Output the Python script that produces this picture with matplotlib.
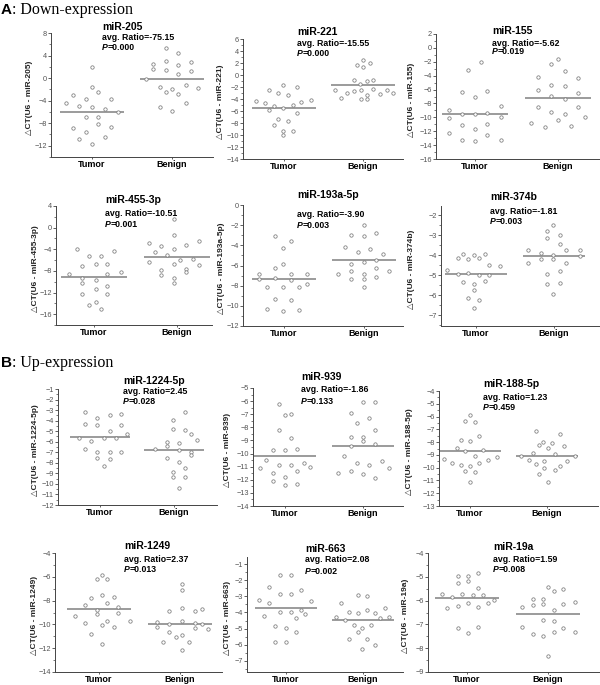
import matplotlib
matplotlib.use('Agg')
import matplotlib.pyplot as plt
import numpy as np
from matplotlib.ticker import MultipleLocator, AutoMinorLocator

# ---------------- data ----------------
groups = ['Tumor', 'Benign']
mirnas = ['miR-205', 'miR-221', 'miR-155', 'miR-455-3p', 'miR-193a-5p', 'miR-374b',
          'miR-1224-5p', 'miR-939', 'miR-188-5p', 'miR-1249', 'miR-663', 'miR-19a']
ratios = ['-75.15', '-15.55', '-5.62', '-10.51', '-3.90', '-1.81',
          '2.45', '-1.86', '1.23', '2.37', '2.08', '1.59']
pvals = ['0.000', '0.000', '0.019', '0.001', '0.003', '0.003',
         '0.028', '0.133', '0.459', '0.013', '0.002', '0.008']

t205 = [1.89, -1.52, -2.48, -3.02, -3.68, -3.68, -4.46, -4.87, -5.11, -5.41, -6.01, -6.91, -6.97, -8.17, -8.59, -8.77, -9.49, -10.44, -10.86, -11.70]
t205_jit = [0, 0, 0.08, -0.24, -0.08, 0.24, -0.32, -0.16, 0, 0.16, 0.33, -0.08, 0.08, 0.08, 0.24, -0.24, -0.08, 0.16, -0.16, 0]
b205 = [5.31, 4.41, 2.49, 3.09, 2.91, 2.37, 1.59, 1.47, 1.17, 0.69, -0.08, -1.52, -1.22, -1.88, -1.82, -2.42, -2.78, -4.40, -5.11, -5.89]
b205_jit = [-0.07, 0.08, -0.24, -0.07, 0.24, 0.08, -0.24, -0.07, 0.24, 0.08, -0.32, -0.15, 0.17, 0, 0.33, -0.07, 0.08, 0.17, -0.15, 0]

t221 = [-1.67, -2.0, -2.56, -3.0, -3.39, -4.39, -4.67, -4.11, -4.5, -5.22, -5.44, -4.94, -5.89, -6.28, -7.39, -7.72, -8.39, -9.39, -9.39, -10.06]
t221_jit = [-0.01, 0.16, -0.19, -0.07, 0.05, -0.36, -0.24, 0.34, 0.22, -0.13, -0.01, 0.11, -0.19, 0.16, -0.07, 0.05, -0.13, -0.01, 0.11, -0.01]
b221 = [2.56, 1.61, 1.33, 2.06, -0.78, -1.06, -0.89, -1.56, -2.56, -3.0, -2.72, -2.56, -3.28, -2.28, -3.17, -2.44, -2.94, -3.78, -3.94, -3.94]
b221_jit = [0, -0.07, 0, 0.09, -0.11, 0.05, 0.13, -0.04, -0.36, -0.2, -0.11, -0.03, 0.05, 0.13, 0.22, 0.3, 0.38, -0.28, -0.03, 0.05]

t155 = [-2.01, -3.16, -6.35, -6.2, -7.03, -8.91, -8.38, -10.16, -9.49, -9.58, -9.44, -10.02, -11.13, -11.03, -11.66, -12.19, -12.48, -13.30, -13.44, -13.30]
t155_jit = [0.07, -0.08, -0.16, 0.15, 0, -0.31, 0.31, -0.31, -0.16, 0, 0.15, 0.31, -0.16, 0.15, 0, -0.31, 0.15, -0.16, 0, 0.31]
b155 = [-1.62, -2.34, -3.31, -4.13, -4.37, -5.34, -5.48, -6.06, -6.45, -6.88, -7.41, -8.57, -8.57, -9.2, -9.58, -10.02, -10.40, -10.79, -11.37, -11.27]
b155_jit = [0, -0.08, 0.08, -0.24, 0.24, -0.08, 0.08, -0.24, 0.24, -0.08, 0.08, -0.24, 0.24, -0.08, 0.08, 0.32, 0, -0.32, -0.16, 0.16]

t455 = [-4.04, -5.26, -5.26, -4.28, -7.10, -6.74, -6.74, -8.58, -8.15, -8.58, -9.37, -9.68, -10.29, -10.79, -11.34, -12.26, -12.32, -14.28, -13.79, -15.02]
t455_jit = [-0.21, -0.06, 0.09, 0.24, -0.14, 0.02, 0.16, -0.30, 0.32, 0.16, -0.14, 0.02, -0.14, 0.16, 0.02, -0.14, 0.16, -0.06, 0.02, 0.09]
b455 = [1.55, -1.40, -2.93, -3.36, -3.12, -2.50, -3.98, -4.59, -5.08, -6.0, -5.88, -6.31, -6.74, -6.92, -7.84, -7.72, -8.15, -8.76, -9.37, -10.29]
b455_jit = [-0.04, -0.04, -0.34, -0.19, 0.11, 0.26, -0.04, -0.27, -0.12, 0.04, 0.19, -0.34, -0.04, 0.26, -0.19, 0.11, 0.11, -0.19, -0.04, -0.04]

t193 = [-3.05, -3.55, -4.28, -5.87, -6.2, -6.86, -7.29, -7.23, -6.86, -7.46, -6.83, -8.15, -8.15, -8.09, -7.86, -9.28, -9.38, -10.34, -10.47, -10.41]
t193_jit = [-0.11, 0.09, -0.01, -0.01, -0.11, -0.31, -0.31, -0.11, 0.09, 0.09, 0.29, -0.21, -0.01, 0.19, 0.29, -0.11, 0.09, -0.21, -0.01, 0.19]
b193 = [-1.99, -2.98, -3.05, -2.82, -4.18, -4.71, -4.41, -4.87, -5.63, -5.47, -5.90, -6.20, -6.50, -6.56, -6.89, -6.86, -7.29, -7.29, -7.16, -8.15]
b193_jit = [0, -0.16, 0, 0.15, -0.24, -0.08, 0.08, 0.24, 0, 0.15, -0.16, 0.15, -0.16, 0.31, -0.32, 0, -0.16, 0, 0.15, 0]

t374 = [-4.72, -4.13, -3.92, -4.17, -4.0, -4.13, -3.95, -4.47, -4.53, -4.92, -4.87, -5.0, -4.97, -5.33, -5.30, -5.45, -5.72, -6.13, -6.25, -6.63]
t374_jit = [-0.37, -0.23, -0.17, -0.10, -0.03, 0.04, 0.11, 0.17, 0.31, -0.23, -0.10, 0.04, 0.17, -0.17, 0.11, -0.03, -0.03, -0.10, 0.04, -0.03]
b374 = [-2.47, -2.8, -2.97, -3.13, -3.42, -3.72, -3.72, -3.75, -3.88, -3.97, -4.2, -4.17, -4.37, -4.37, -4.05, -4.8, -4.92, -5.42, -5.38, -5.92]
b374_jit = [-0.01, -0.09, 0.08, -0.09, 0.08, 0.16, 0.33, -0.33, -0.17, -0.01, -0.01, -0.17, -0.33, 0.16, 0.33, 0.08, -0.09, -0.09, 0.08, -0.01]

t1224 = [-3.17, -3.71, -3.49, -3.40, -4.28, -4.44, -4.37, -5.0, -5.60, -5.92, -5.60, -5.60, -5.29, -6.70, -6.96, -6.96, -6.96, -7.59, -7.68, -8.31]
t1224_jit = [-0.20, -0.04, 0.13, 0.29, -0.20, -0.04, 0.29, 0.13, -0.28, -0.12, 0.05, 0.21, 0.37, -0.20, -0.04, 0.13, 0.29, -0.04, 0.13, 0.05]
b1224 = [-3.17, -3.96, -4.75, -4.91, -5.22, -6.01, -6.11, -6.42, -6.70, -6.74, -6.96, -7.27, -7.52, -7.90, -8.53, -8.91, -9.32, -9.32, -10.36, -5.85]
b1224_jit = [0.15, -0.02, -0.02, 0.15, 0.23, -0.10, 0.07, -0.10, -0.26, 0.07, 0.23, 0.23, -0.10, 0.07, 0.15, -0.02, -0.02, 0.15, 0.07, 0.31]

t939 = [-6.20, -7.08, -6.96, -8.23, -8.81, -9.75, -9.70, -9.65, -10.52, -10.90, -10.90, -10.72, -11.03, -11.10, -11.46, -11.36, -11.79, -12.09, -12.42, -12.30]
t939_jit = [-0.08, 0, 0.08, -0.08, 0.08, -0.15, 0, 0.16, -0.24, -0.08, 0.08, 0.24, 0.32, -0.32, -0.15, 0.16, 0, -0.15, 0, 0.16]
b939 = [-6.09, -6.04, -6.91, -7.26, -7.67, -8.23, -8.74, -8.74, -9.07, -9.25, -9.42, -10.21, -10.70, -10.57, -10.90, -11.10, -11.46, -11.36, -11.53, -11.86]
b939_jit = [0, 0.16, -0.16, 0.08, -0.08, 0.16, -0.16, 0, 0, 0.16, -0.16, -0.24, -0.08, 0.24, 0.08, 0.33, -0.32, -0.16, 0, 0.16]

t188 = [-5.85, -6.35, -6.43, -7.81, -7.91, -7.52, -8.46, -8.70, -8.59, -9.06, -9.17, -9.35, -9.43, -9.61, -9.77, -9.64, -9.90, -10.26, -10.34, -11.12]
t188_jit = [0, -0.06, 0.06, -0.12, 0, 0.12, -0.17, -0.06, 0.17, 0.06, 0.35, -0.34, 0.23, -0.24, -0.12, 0.12, 0, -0.06, 0.06, 0]
b188 = [-7.13, -7.39, -7.99, -8.20, -8.04, -8.33, -8.43, -8.85, -8.90, -9.11, -9.11, -9.43, -9.48, -9.50, -9.74, -9.90, -10.03, -10.21, -10.52, -11.12]
b188_jit = [-0.14, 0.17, -0.05, -0.10, 0.07, 0.22, 0.01, -0.18, 0.11, -0.34, 0.37, -0.24, -0.04, 0.26, -0.14, 0.17, -0.04, 0.11, -0.10, 0.01]

t1249 = [-5.81, -6.17, -6.22, -7.75, -7.56, -7.67, -8.17, -8.36, -8.53, -8.81, -9.14, -9.08, -9.28, -9.75, -9.75, -9.89, -10.06, -10.25, -10.81, -11.64]
t1249_jit = [0.04, -0.03, 0.10, -0.10, 0.04, 0.18, 0.10, -0.17, 0.24, -0.03, -0.03, 0.24, -0.30, 0.38, 0.10, -0.17, 0.04, 0.18, -0.10, 0.04]
b1249 = [-6.64, -7.14, -8.64, -8.86, -8.86, -9.83, -9.97, -9.75, -9.89, -10.25, -10.67, -10.31, -11.08, -10.89, -11.50, -11.50, -12.11, -8.72, -9.95, -10.40]
b1249_jit = [0.03, 0.03, 0.03, -0.13, 0.19, -0.29, -0.13, 0.03, 0.19, -0.29, -0.13, 0.19, -0.05, 0.03, -0.21, 0.11, 0.03, 0.27, 0.27, 0.35]

t663 = [-1.68, -1.64, -2.41, -2.61, -2.82, -2.88, -3.23, -3.38, -3.28, -3.86, -4.0, -4.0, -4.23, -4.12, -4.37, -4.85, -4.95, -5.24, -5.82, -5.82]
t663_jit = [-0.08, 0.06, -0.22, 0.19, -0.08, 0.06, -0.35, -0.22, 0.32, 0.19, -0.08, 0.06, -0.28, 0.25, 0.13, -0.14, 0, 0.13, -0.14, 0]
b663 = [-2.92, -2.99, -3.44, -3.96, -4.06, -3.86, -4.06, -3.75, -4.27, -4.27, -4.48, -4.79, -4.79, -4.99, -5.24, -5.66, -5.66, -6.03, -6.30, -4.37]
b663_jit = [-0.06, 0.05, -0.28, -0.18, -0.06, 0.05, 0.16, 0.28, -0.35, 0.34, -0.24, -0.12, 0.11, -0.01, -0.06, 0.05, -0.18, 0.16, -0.01, 0.22]

t19 = [-4.97, -4.97, -4.84, -5.25, -5.17, -5.49, -5.74, -5.84, -5.73, -5.77, -5.77, -5.98, -6.08, -6.33, -6.23, -6.08, -6.26, -7.16, -7.13, -7.37]
t19_jit = [-0.11, 0.01, 0.13, -0.11, 0.01, 0.13, -0.31, -0.18, -0.06, 0.07, 0.20, 0.33, 0.26, -0.25, -0.11, 0.01, 0.13, -0.11, 0.13, 0.01]
b19 = [-5.42, -5.59, -5.52, -5.95, -5.95, -6.06, -6.28, -6.19, -6.16, -6.16, -6.40, -6.81, -6.84, -7.09, -7.15, -7.33, -7.33, -7.41, -7.47, -8.32]
b19_jit = [0, 0.07, 0.19, -0.19, -0.06, 0.33, -0.32, -0.19, -0.06, 0.19, 0.07, -0.06, 0.07, -0.32, 0.19, 0.33, 0.07, -0.19, -0.06, 0]

tumor_mean = [-6.0, -5.5, -9.49, -9.19, -7.36, -4.92, -5.54, -10.16, -8.72, -8.72, -3.75, -5.91]
benign_mean = [-0.08, -1.61, -7.17, -5.51, -5.47, -4.05, -6.74, -9.40, -9.11, -9.97, -4.48, -6.58]

tumor_vals = [t205, t221, t155, t455, t193, t374, t1224, t939, t188, t1249, t663, t19]
tumor_jit = [t205_jit, t221_jit, t155_jit, t455_jit, t193_jit, t374_jit,
             t1224_jit, t939_jit, t188_jit, t1249_jit, t663_jit, t19_jit]
benign_vals = [b205, b221, b155, b455, b193, b374, b1224, b939, b188, b1249, b663, b19]
benign_jit = [b205_jit, b221_jit, b155_jit, b455_jit, b193_jit, b374_jit,
              b1224_jit, b939_jit, b188_jit, b1249_jit, b663_jit, b19_jit]

ylims = [(-14, 8), (-14, 6), (-16, 2), (-18, 4), (-12, 0), (-7.53, -1.53),
         (-12, -1), (-14, -5), (-13, -4), (-14, -4), (-7.7, -0.55), (-9, -4)]
ysteps = [4, 2, 2, 4, 2, 1, 1, 1, 1, 2, 1, 1]

# ---------------- layout (pixels) ----------------
W, H = 600, 685
# left, right, tumor x, benign x, top, bottom
layout = [
    (51, 213, 92, 172, 33, 157),
    (243, 403, 284, 363, 39, 159),
    (436, 600, 475, 558, 34, 159),
    (56, 212, 94, 177, 206, 325),
    (243, 403, 284, 364, 205, 326),
    (441, 600, 476, 554, 206, 326),
    (58, 217, 100, 174, 389, 505),
    (253, 403, 285, 363, 388, 506),
    (439, 598, 470, 547, 391, 506),
    (55, 222, 99, 180, 553, 672),
    (247, 403, 286, 363, 557, 672),
    (428, 600, 467, 548, 553, 672),
]
title_pos = [
    (102, 27, 38, 48), (297, 32, 43, 53), (492, 31, 43, 52),
    (105, 200, 214, 225), (297, 195, 215, 226), (490, 197, 212, 222),
    (123, 381, 392, 402), (301, 377, 390, 401), (483, 384, 397, 407),
    (124, 546, 559, 570), (305, 549, 560, 571), (493, 547, 559, 569),
]
ylabel_x = [29, 220, 411, 35, 221, 411, 35, 227, 409, 34, 227, 405]

SANS = ['Liberation Sans', 'DejaVu Sans']
SERIF = ['Liberation Serif', 'DejaVu Serif']
PT_C = '#7a7a7a'
LINE_C = '#8a8a8a'
AX_C = '#444444'

fig = plt.figure(figsize=(W / 100, H / 100), dpi=100)


def fx(px):
    return px / W


def fy(py):
    return 1 - py / H


for i in range(12):
    L, R, T, B, top, bot = layout[i]
    ax = fig.add_axes([fx(L), fy(bot), (R - L) / W, (bot - top) / H])
    unit = B - T
    ax.set_xlim(1 - (T - L) / unit, 2 + (R - B) / unit)
    ax.set_ylim(*ylims[i])
    for k, (vals, jit, m) in enumerate([(tumor_vals[i], tumor_jit[i], tumor_mean[i]),
                                         (benign_vals[i], benign_jit[i], benign_mean[i])]):
        xc = k + 1
        ax.plot([xc - 0.4, xc + 0.4], [m, m], color=LINE_C, lw=1.2, zorder=1,
                solid_capstyle='butt')
        ax.scatter(xc + np.array(jit), vals, s=6, facecolors='white',
                   edgecolors=PT_C, linewidths=0.55, zorder=2, clip_on=False)
    for s in ['top', 'right']:
        ax.spines[s].set_visible(False)
    for s in ['left', 'bottom']:
        ax.spines[s].set_color(AX_C)
        ax.spines[s].set_linewidth(0.7)
    ax.yaxis.set_major_locator(MultipleLocator(ysteps[i]))
    ax.yaxis.set_minor_locator(AutoMinorLocator(2))
    ax.tick_params(axis='y', which='major', direction='out', length=2.2, width=0.6,
                   color=AX_C, labelsize=5.3, labelcolor='#555555', pad=0.8)
    ax.tick_params(axis='y', which='minor', direction='out', length=1.3, width=0.5,
                   color=AX_C)
    for lab in ax.get_yticklabels():
        lab.set_family(SANS)
    ax.set_xticks([1, 2])
    ax.set_xticklabels(groups, fontsize=6.5, fontweight='bold', family=SANS)
    ax.tick_params(axis='x', direction='out', length=1.5, width=0.6, color=AX_C, pad=0.5)
    ax.set_facecolor('none')

    # titles
    tx, y1, y2, y3 = title_pos[i]
    fig.text(fx(tx), fy(y1), mirnas[i], fontsize=7.5, fontweight='bold',
             family=SANS, va='center', ha='left')
    fig.text(fx(tx), fy(y2), 'avg. Ratio=' + ratios[i], fontsize=6.3,
             fontweight='bold', family=SANS, va='center', ha='left')
    tp = fig.text(fx(tx), fy(y3), 'P', fontsize=6.3, fontweight='bold',
                  fontstyle='italic', family=SANS, va='center', ha='left')
    ax.annotate('=' + pvals[i], xy=(1, 0.5), xycoords=tp, fontsize=6.3,
                fontweight='bold', family=SANS, va='center', ha='left',
                annotation_clip=False)

    # y label
    fig.text(fx(ylabel_x[i]), fy((top + bot) / 2 + 3), '\u25b3CT(U6 - ' + mirnas[i] + ')',
             rotation=90, fontsize=6.0, fontweight='bold', family=SANS,
             color='#222222', va='center', ha='center')

# section headers
for letter, rest, base in [('A', ': Down-expression', 13.5), ('B', ': Up-expression', 367)]:
    tA = fig.text(fx(1), fy(base), letter, fontsize=11, fontweight='bold',
                  family=SANS, va='baseline', ha='left')
    fig.axes[0].annotate(rest, xy=(1, fy(base)), xycoords=(tA, 'figure fraction'),
                         fontsize=11.5, family=SERIF, va='baseline', ha='left',
                         annotation_clip=False)

fig.savefig('out.png', dpi=100)
